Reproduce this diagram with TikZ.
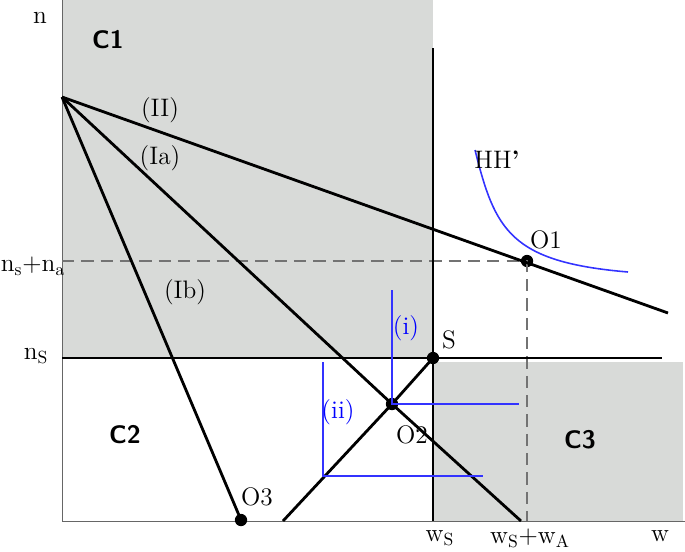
\documentclass[tikz,border=0pt]{standalone}
\usepackage{tikz}
\begin{document}
\begin{tikzpicture}%
  [x=0.02cm, y=-0.02cm,
   thickline/.style={black, line width=1.6pt},
   blueline/.style={blue!80!white, line width=0.9pt},
   region/.style={fill=black!15!green!3!gray!30},
   lbl/.style={font=\Large},
   rlbl/.style={font=\sffamily\bfseries\Large},
   dot/.style={circle, fill=black, inner sep=0pt, minimum size=7pt}
  ]
\useasboundingbox (0,0) rectangle (685,551);
% regions
\fill[region] (62,0) rectangle (433,358);
\fill[region] (433,362) rectangle (683,521);
% axes
\draw[black!60] (62,0) -- (62,521) -- (685,521);
% named points
\coordinate (P)  at (62,97);
\node[dot] (O1) at (527,261) {};
\node[dot] (O2) at (392,404) {};
\node[dot] (O3) at (241,520) {};
\node[dot] (S)  at (433,358) {};
\coordinate (IIend) at (668,313);
\coordinate (Iaend) at (521,521);
\coordinate (Xend)  at (283,521);
% dashed guides
\draw[black!55, line width=1.5pt, dash pattern=on 7pt off 4pt] (62,261) -- (O1.center) -- (527,521);
% thick lines
\draw[thickline] (433,48) -- (433,521);
\draw[thickline] (62,358) -- (662,358);
\draw[thickline] (P) -- (IIend);
\draw[thickline] (P) -- (O2.center) -- (Iaend);
\draw[thickline] (P) -- (O3.center);
\draw[thickline] (Xend) -- (O2.center) -- (S.center);
% blue constructions
\draw[blueline] (392,290) -- (O2.center) -- (519,404);
\draw[blueline] (323,362) -- (323,476) -- (483,476);
\draw[blueline] (475,150) .. controls (495,230) and (510,262) .. (628,272);
% labels
\node[lbl] (ny) at (40,18) {n};
\node[rlbl] (c1) at (108,40) {C1};
\node[rlbl] (c2) at (125,435) {C2};
\node[rlbl] (c3) at (580,440) {C3};
\node[lbl] (lII) at (160,110) {(II)};
\node[lbl] (lIa) at (160,158) {(Ia)};
\node[lbl] (lIb) at (185,292) {(Ib)};
\node[lbl] (hh) at (497,160) {HH\textbf{'}};
\node[lbl] (lO1) at (546,240) {O1};
\node[lbl] (lO2) at (412,435) {O2};
\node[lbl] (lO3) at (257,497) {O3};
\node[lbl] (lS) at (449,340) {S};
\node[lbl, blue] (li) at (406,328) {(i)};
\node[lbl, blue] (lii) at (338,412) {(ii)};
\node[lbl] (nsna) at (33,266) {n$_{\rm s}$+n$_{\rm a}$};
\node[lbl] (ns) at (36,356) {n$_{\rm S}$};
\node[lbl] (ws) at (440,538) {w$_{\rm S}$};
\node[lbl] (wswa) at (530,538) {w$_{\rm S}$+w$_{\rm A}$};
\node[lbl] (wx) at (660,536) {w};
\end{tikzpicture}
\end{document}
